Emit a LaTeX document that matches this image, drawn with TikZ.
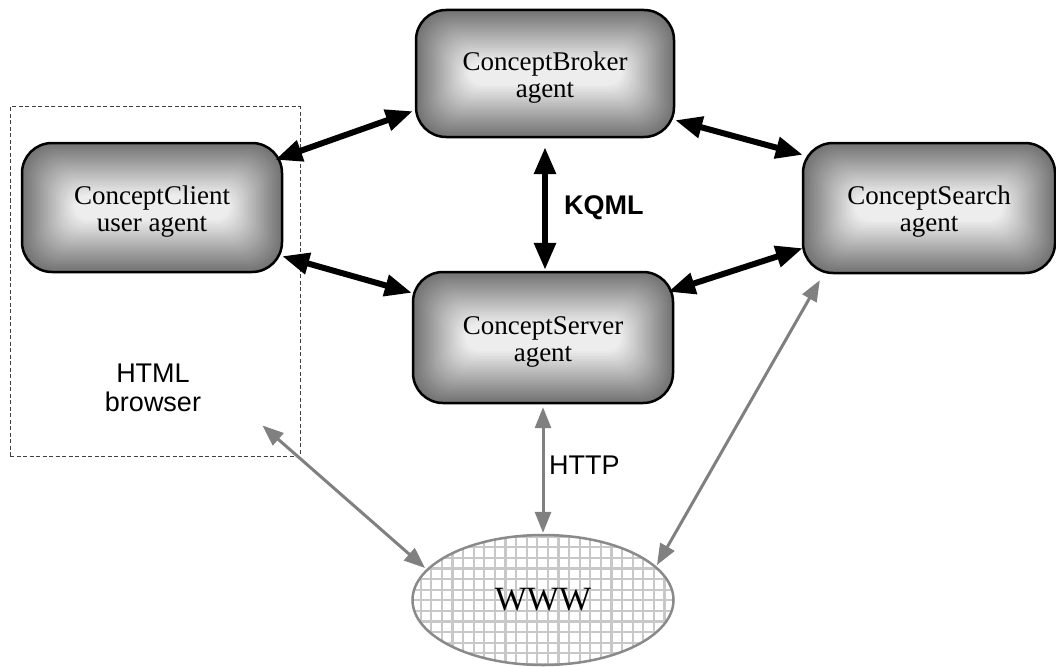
\documentclass[tikz,border=0pt]{standalone}
\usepackage{fontspec}
\setmainfont{Liberation Serif}
\newfontfamily\arialfont{Liberation Sans}
\usetikzlibrary{arrows.meta,calc,shapes.geometric}

\definecolor{linkgray}{HTML}{808080}
\definecolor{gridgray}{HTML}{C8C8C8}
\definecolor{rimgray}{HTML}{8A8A8A}

\tikzset{
  % rounded agent box filled with nested, lighter rounded rectangles
  agent/.style={
    rounded corners=30pt, inner sep=0pt,
    fill=black!55,
    path picture={
      \foreach \i in {0,...,26}{
        \pgfmathsetmacro\gv{55-\i*1.85}
        \pgfmathsetmacro\rv{max(30-\i*0.6,10)}
        \fill[black!\gv, rounded corners=\rv pt]
          ($(path picture bounding box.north west)+(\i*2.0,-\i*2.0)$) rectangle
          ($(path picture bounding box.south east)+(-\i*2.0,\i*2.0)$);
      }
    },
    postaction={draw=black, line width=2.5pt},
    label={[agenttext]center:#1}
  },
  agenttext/.style={align=center, inner sep=0pt, yshift=-4pt,
    font=\fontsize{27}{27}\selectfont},
  karrow/.style={{Triangle[length=27pt,width=21pt]}-{Triangle[length=27pt,width=21pt]},
    line width=6pt, color=black},
  garrow/.style={{Triangle[length=21pt,width=16pt]}-{Triangle[length=21pt,width=16pt]},
    line width=3pt, color=linkgray},
  sanslabel/.style={font=\arialfont\fontsize{27}{30}\selectfont, inner sep=0pt}
}

\begin{document}
\begin{tikzpicture}[x=1pt,y=1pt]
  \useasboundingbox (0,0) rectangle (1056,-666);

  % browser frame
  \node[draw=black!75, dash pattern=on 4pt off 2.5pt, line width=1pt,
        minimum width=290pt, minimum height=349pt, inner sep=0pt]
        (browser) at (155,-281.5) {};
  \node[sanslabel, align=center] (browsertext) at (153,-388) {HTML\\[-1pt]browser};

  % agents
  \node[agent={ConceptBroker\\agent}, minimum width=258pt, minimum height=127pt] (broker) at (545,-73.5) {};
  \node[agent={ConceptClient\\user agent}, minimum width=260pt, minimum height=129pt] (client) at (152,-207.5) {};
  \node[agent={ConceptSearch\\agent}, minimum width=252pt, minimum height=130pt] (search) at (929,-208) {};
  \node[agent={ConceptServer\\agent}, minimum width=260pt, minimum height=131pt] (server) at (543,-337.5) {};

  % the web
  \node[ellipse, inner sep=0pt, minimum width=261pt, minimum height=130pt,
        font=\fontsize{34}{36}\selectfont, fill=white,
        path picture={
          \draw[gridgray, line width=2.3pt]
            (path picture bounding box.south west) grid[step=10.6pt]
            (path picture bounding box.north east);
        },
        postaction={draw=rimgray, line width=2.5pt}]
        (www) at (543,-600) {WWW};

  % KQML links
  \draw[karrow] ([shift={(-7,-17)}]client.north east) -- ([shift={(-3,26)}]broker.south west);
  \draw[karrow] ([shift={(0,16)}]client.south east) -- ([shift={(-1,-21)}]server.north west);
  \draw[karrow] ([shift={(1,17)}]broker.south east) -- ([shift={(0,-12)}]search.north west);
  \draw[karrow] ([shift={(-5,-20)}]server.north east) -- ([shift={(0,25)}]search.south west);
  \draw[karrow] ([shift={(0,-10)}]broker.south) -- ([shift={(2,2)}]server.north);
  \node[anchor=west, inner sep=0pt, font=\arialfont\bfseries\fontsize{27}{30}\selectfont]
        (kqml) at (564,-208) {KQML};

  % HTTP links
  \draw[garrow] ([shift={(-38,31)}]browser.south east) -- ([shift={(-118,32)}]www.center);
  \draw[garrow] ([shift={(0,-4)}]server.south) -- ([shift={(0,2)}]www.north);
  \draw[garrow] ([shift={(17,-7)}]search.south west) -- ([shift={(114,35)}]www.center);
  \node[sanslabel, anchor=west] (http) at (549,-465) {HTTP};
\end{tikzpicture}
\end{document}
